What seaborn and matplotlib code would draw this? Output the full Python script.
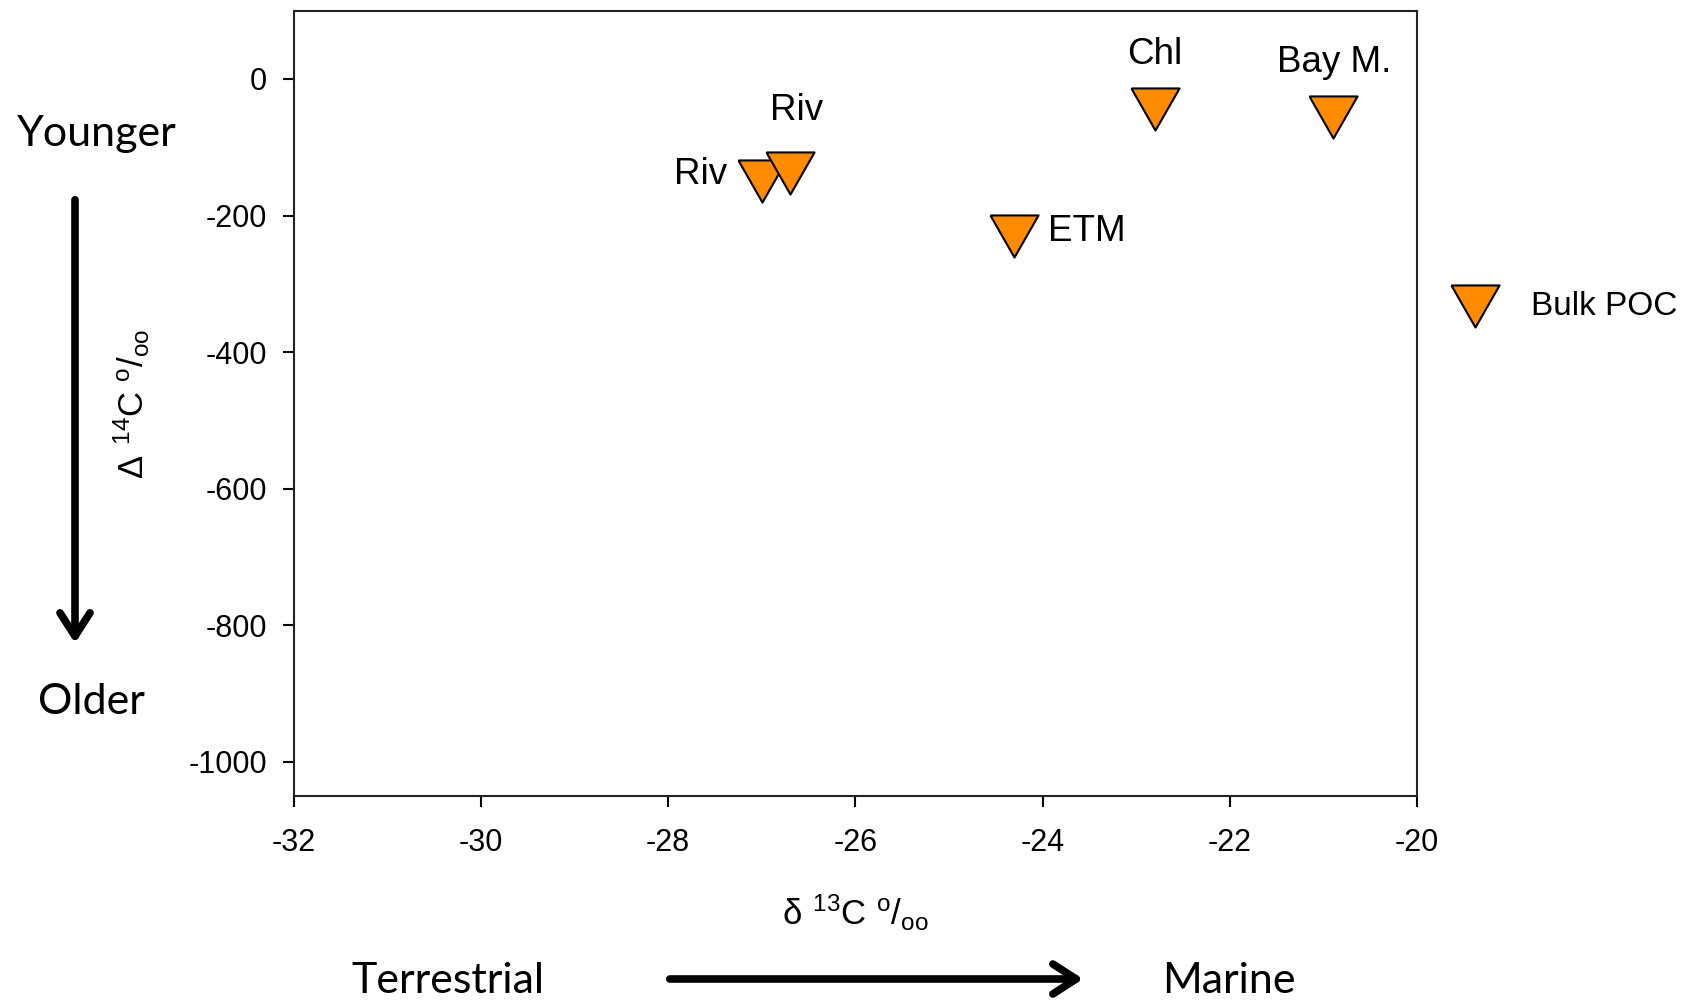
import numpy as np
import pandas as pd
import seaborn as sns
import matplotlib.pyplot as plt

# bulk POC samples: d13C vs D14C
labels = ['Riv', 'Riv', 'ETM', 'Chl', 'Bay M.']
d13c = [-27.0, -26.7, -24.3, -22.8, -20.9]
D14c = [-150, -137, -230, -44, -55]
# label offsets (points) relative to each marker
label_dx = [-44, 5, 52, 0, 1]
label_dy = [5, 45, 3, 39, 39]

df = pd.DataFrame({'d13C': d13c, 'D14C': D14c, 'site': labels})

sns.set_theme(style='ticks')
plt.rcParams['font.family'] = ['Liberation Sans', 'DejaVu Sans']
plt.rcParams['mathtext.default'] = 'regular'
plt.rcParams['axes.unicode_minus'] = False
plt.rcParams['text.color'] = 'black'
plt.rcParams['axes.labelcolor'] = 'black'
plt.rcParams['xtick.color'] = 'black'
plt.rcParams['ytick.color'] = 'black'

fig = plt.figure(figsize=(16.86, 10.01), dpi=100)
ax = fig.add_axes([0.1741, 0.2048, 0.8405 - 0.1741, 0.9893 - 0.2048])

tri = [(-1, 0.875), (1, 0.875), (0, -0.875), (-1, 0.875)]
sns.scatterplot(data=df, x='d13C', y='D14C', ax=ax, marker=tri, s=1200,
                color='#FF8C00', edgecolor='black', linewidth=1.5,
                label='Bulk POC', zorder=3)

for i in range(len(labels)):
    ax.annotate(labels[i], (d13c[i], D14c[i]), xytext=(label_dx[i], label_dy[i]),
                textcoords='offset points', ha='center', va='center', fontsize=26.5)

ax.set_xlim(-32, -20)
ax.set_ylim(-1050, 100)
ax.set_xticks(np.arange(-32, -19, 2))
ax.set_yticks(np.arange(-1000, 1, 200))
ax.tick_params(axis='both', labelsize=22, length=8, width=1.5, direction='out', pad=11)
ax.tick_params(axis='x', pad=15)
for s in ax.spines.values():
    s.set_linewidth(1.5)
    s.set_color('#222222')

ax.set_xlabel(r'$\delta\ ^{13}$C $^{o}/_{oo}$', fontsize=25, labelpad=25)
ax.set_ylabel(r'$\Delta\ ^{14}$C $^{o}/_{oo}$', fontsize=25, labelpad=26)

ax.legend(loc='center left', bbox_to_anchor=(0.845, 0.694), bbox_transform=fig.transFigure,
          frameon=False, fontsize=24, handletextpad=0.7, borderpad=0)

# direction annotations
side_font = ['Lato', 'DejaVu Sans']
fig.text(97 / 1686, 1 - 134 / 1001, 'Younger', fontsize=31, ha='center', va='center', family=side_font)
fig.text(91 / 1686, 1 - 702 / 1001, 'Older', fontsize=31, ha='center', va='center', family=side_font)
fig.text(448 / 1686, 1 - 981 / 1001, 'Terrestrial', fontsize=31, ha='center', va='center', family=side_font)
fig.text(1229 / 1686, 1 - 981 / 1001, 'Marine', fontsize=31, ha='center', va='center', family=side_font)

arrow_style = dict(arrowstyle='->,head_length=1.4,head_width=0.9', lw=5.5, color='black')
ax.annotate('', xy=(75 / 1686, 1 - 646 / 1001), xytext=(75 / 1686, 1 - 197 / 1001),
            xycoords='figure fraction', textcoords='figure fraction', arrowprops=arrow_style)
ax.annotate('', xy=(1086 / 1686, 1 - 979 / 1001), xytext=(667 / 1686, 1 - 979 / 1001),
            xycoords='figure fraction', textcoords='figure fraction', arrowprops=arrow_style)

plt.savefig('out.png', dpi=100)
